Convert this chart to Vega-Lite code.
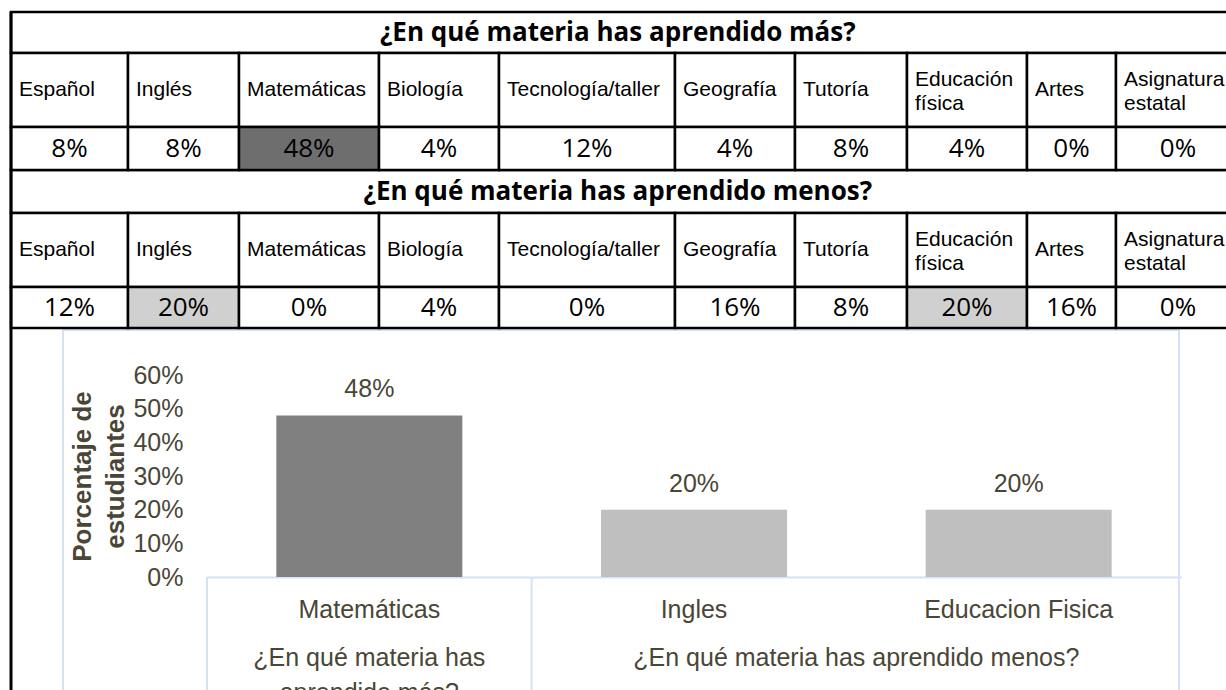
{
 "$schema": "https://vega.github.io/schema/vega-lite/v6.json",
 "autosize": {"type": "none"},
 "padding": {"left": 63, "top": 330, "right": 47, "bottom": 0},
 "width": 1116,
 "height": 370,
 "background": "white",
 "config": {"view": {"stroke": "#D6E2F2", "strokeWidth": 2}, "font": "Liberation Sans"},
 "datasets": {
  "preguntas": [
   {"pregunta": "más", "titulo": "¿En qué materia has aprendido más?"},
   {"pregunta": "menos", "titulo": "¿En qué materia has aprendido menos?"}
  ],
  "materias": [
   {"pregunta": "más", "materia": "Español", "orden": 0, "pct": 0.08},
   {"pregunta": "más", "materia": "Inglés", "orden": 1, "pct": 0.08},
   {"pregunta": "más", "materia": "Matemáticas", "orden": 2, "pct": 0.48},
   {"pregunta": "más", "materia": "Biología", "orden": 3, "pct": 0.04},
   {"pregunta": "más", "materia": "Tecnología/taller", "orden": 4, "pct": 0.12},
   {"pregunta": "más", "materia": "Geografía", "orden": 5, "pct": 0.04},
   {"pregunta": "más", "materia": "Tutoría", "orden": 6, "pct": 0.08},
   {"pregunta": "más", "materia": "Educación física", "orden": 7, "pct": 0.04},
   {"pregunta": "más", "materia": "Artes", "orden": 8, "pct": 0},
   {"pregunta": "más", "materia": "Asignatura estatal", "orden": 9, "pct": 0},
   {"pregunta": "menos", "materia": "Español", "orden": 0, "pct": 0.12},
   {"pregunta": "menos", "materia": "Inglés", "orden": 1, "pct": 0.2},
   {"pregunta": "menos", "materia": "Matemáticas", "orden": 2, "pct": 0},
   {"pregunta": "menos", "materia": "Biología", "orden": 3, "pct": 0.04},
   {"pregunta": "menos", "materia": "Tecnología/taller", "orden": 4, "pct": 0},
   {"pregunta": "menos", "materia": "Geografía", "orden": 5, "pct": 0.16},
   {"pregunta": "menos", "materia": "Tutoría", "orden": 6, "pct": 0.08},
   {"pregunta": "menos", "materia": "Educación física", "orden": 7, "pct": 0.2},
   {"pregunta": "menos", "materia": "Artes", "orden": 8, "pct": 0.16},
   {"pregunta": "menos", "materia": "Asignatura estatal", "orden": 9, "pct": 0}
  ],
  "grafico": [
   {"categoria": "Matemáticas", "grupo": "más", "pct": 0.48},
   {"categoria": "Ingles", "grupo": "menos", "pct": 0.2},
   {"categoria": "Educacion Fisica", "grupo": "menos", "pct": 0.2}
  ],
  "grupos": [
   {"grupo": "más", "etiqueta": "¿En qué materia has\naprendido más?", "primera": "Matemáticas", "ultima": "Matemáticas"},
   {"grupo": "menos", "etiqueta": "¿En qué materia has aprendido menos?", "primera": "Ingles", "ultima": "Educacion Fisica"}
  ]
 },
 "layer": [
  {
   "layer": [
    {
     "data": {"name": "preguntas"},
     "transform": [
      {"calculate": "datum.pregunta === 'más' ? 0 : 3", "as": "b"},
      {"calculate": "datum.b + 1", "as": "b1"}
     ],
     "mark": {"type": "rect", "fill": "white", "stroke": "black", "strokeWidth": 2.5},
     "encoding": {
      "x": {"datum": 0, "type": "quantitative", "axis": null, "scale": {"type": "linear", "domain": [0,1,2,3,4,5,6,7,8,9,10], "range": [-52,65,176,316,436,612,732,844,964,1053,1177], "nice": false, "zero": false}},
      "x2": {"datum": 10},
      "y": {"field": "b", "type": "quantitative", "axis": null, "scale": {"type": "linear", "domain": [0,1,2,3,4,5,6,7], "range": [-318,-277,-203,-160,-117,-43,-2,370], "nice": false, "zero": false}},
      "y2": {"field": "b1"}
     }
    },
    {
     "data": {"name": "preguntas"},
     "transform": [
      {"calculate": "datum.pregunta === 'más' ? 0.5 : 3.5", "as": "ym"}
     ],
     "mark": {"type": "text", "font": "Open Sans", "fontWeight": "bold", "fontSize": 26, "color": "black", "align": "center", "baseline": "middle"},
     "encoding": {
      "x": {"datum": 4.675, "type": "quantitative"},
      "y": {"field": "ym", "type": "quantitative"},
      "text": {"field": "titulo"}
     }
    },
    {
     "data": {"name": "materias"},
     "transform": [
      {"calculate": "datum.pregunta === 'más' ? 1 : 4", "as": "f1"},
      {"calculate": "datum.f1 + 1", "as": "f2"},
      {"calculate": "datum.orden + 1", "as": "o1"}
     ],
     "mark": {"type": "rect", "fill": "white", "stroke": "black", "strokeWidth": 2.5},
     "encoding": {
      "x": {"field": "orden", "type": "quantitative"},
      "x2": {"field": "o1"},
      "y": {"field": "f1", "type": "quantitative"},
      "y2": {"field": "f2"}
     }
    },
    {
     "data": {"name": "materias"},
     "transform": [
      {"filter": "indexof(datum.materia, ' ') < 0"},
      {"calculate": "datum.pregunta === 'más' ? 1.5 : 4.5", "as": "fm"}
     ],
     "mark": {"type": "text", "font": "Liberation Sans", "fontSize": 21, "color": "black", "align": "left", "baseline": "middle", "dx": 8},
     "encoding": {
      "x": {"field": "orden", "type": "quantitative"},
      "y": {"field": "fm", "type": "quantitative"},
      "text": {"field": "materia"}
     }
    },
    {
     "data": {"name": "materias"},
     "transform": [
      {"filter": "indexof(datum.materia, ' ') >= 0"},
      {"calculate": "datum.pregunta === 'más' ? 1.5 : 4.5", "as": "fm"}
     ],
     "mark": {"type": "text", "font": "Liberation Sans", "fontSize": 21, "color": "black", "align": "left", "baseline": "middle", "dx": 8, "dy": -10, "lineBreak": " ", "lineHeight": 24},
     "encoding": {
      "x": {"field": "orden", "type": "quantitative"},
      "y": {"field": "fm", "type": "quantitative"},
      "text": {"field": "materia"}
     }
    },
    {
     "data": {"name": "materias"},
     "transform": [
      {"joinaggregate": [{"op": "max", "field": "pct", "as": "maximo"}], "groupby": ["pregunta"]},
      {"calculate": "datum.pregunta === 'más' ? 2 : 5", "as": "f2"},
      {"calculate": "datum.f2 + 1", "as": "f3"},
      {"calculate": "datum.orden + 1", "as": "o1"}
     ],
     "mark": {"type": "rect", "stroke": "black", "strokeWidth": 2.5},
     "encoding": {
      "x": {"field": "orden", "type": "quantitative"},
      "x2": {"field": "o1"},
      "y": {"field": "f2", "type": "quantitative"},
      "y2": {"field": "f3"},
      "fill": {"condition": [
        {"test": "datum.pct === datum.maximo && datum.pregunta === 'más'", "value": "#6E6E6E"},
        {"test": "datum.pct === datum.maximo", "value": "#D0D0D0"}
       ], "value": "white"}
     }
    },
    {
     "data": {"name": "materias"},
     "transform": [
      {"calculate": "datum.pregunta === 'más' ? 2.5 : 5.5", "as": "fv"},
      {"calculate": "datum.orden + 0.5", "as": "om"}
     ],
     "mark": {"type": "text", "font": "Open Sans", "fontSize": 26, "color": "black", "align": "center", "baseline": "middle"},
     "encoding": {
      "x": {"field": "om", "type": "quantitative"},
      "y": {"field": "fv", "type": "quantitative"},
      "text": {"field": "pct", "type": "quantitative", "format": ".0%"}
     }
    },
    {
     "data": {"values": [{}]},
     "mark": {"type": "rule", "color": "black", "strokeWidth": 3},
     "encoding": {
      "x": {"datum": 0, "type": "quantitative"},
      "y": {"datum": 0, "type": "quantitative"},
      "y2": {"datum": 7}
     }
    }
   ]
  },
  {
   "layer": [
    {
     "data": {"name": "grafico"},
     "mark": {"type": "bar"},
     "encoding": {
      "x": {"field": "categoria", "type": "nominal", "sort": null,
       "scale": {"type": "band", "domain": ["Matemáticas", "Ingles", "Educacion Fisica"], "range": [144, 1118], "paddingInner": 0.427, "paddingOuter": 0.2135},
       "axis": {"orient": "bottom", "offset": -123, "title": null, "domain": true, "domainColor": "#D6E2F2", "domainWidth": 2, "ticks": false, "tickSize": 0, "grid": false, "labelPadding": 20, "labelLimit": 0, "labelFont": "Liberation Sans", "labelFontSize": 25, "labelColor": "#4A4636", "labelAngle": 0}},
      "y": {"field": "pct", "type": "quantitative",
       "scale": {"domain": [0, 0.6], "range": [247, 45], "nice": false, "zero": true},
       "axis": {"orient": "left", "offset": -120, "values": [0, 0.1, 0.2, 0.3, 0.4, 0.5, 0.6], "format": ".0%", "domain": false, "ticks": false, "tickSize": 0, "grid": false, "labelPadding": 0, "labelFont": "Liberation Sans", "labelFontSize": 25, "labelColor": "#4A4636",
        "title": ["Porcentaje de", "estudiantes"], "titleFont": "Liberation Sans", "titleFontSize": 26, "titleFontWeight": "bold", "titleColor": "#4A4636", "titleX": -101, "titleY": 146, "titleAngle": -90, "titleAlign": "center", "titleBaseline": "middle", "titleLineHeight": 33}},
      "color": {"field": "grupo", "type": "nominal", "scale": {"domain": ["más", "menos"], "range": ["#808080", "#BFBFBF"]}, "legend": null}
     }
    },
    {
     "data": {"name": "grafico"},
     "mark": {"type": "text", "font": "Liberation Sans", "fontSize": 25, "color": "#4A4636", "align": "center", "baseline": "middle", "dy": -26},
     "encoding": {
      "x": {"field": "categoria", "type": "nominal"},
      "y": {"field": "pct", "type": "quantitative"},
      "text": {"field": "pct", "type": "quantitative", "format": ".0%"}
     }
    },
    {
     "data": {"name": "grupos"},
     "mark": {"type": "rule", "color": "#D6E2F2", "strokeWidth": 2},
     "encoding": {
      "x": {"field": "primera", "type": "nominal", "bandPosition": -0.3726},
      "y": {"datum": 0, "type": "quantitative"},
      "y2": {"datum": -1}
     }
    },
    {
     "data": {"name": "grupos"},
     "transform": [{"filter": "datum.grupo === 'más'"}],
     "mark": {"type": "text", "font": "Liberation Sans", "fontSize": 25, "color": "#4A4636", "align": "center", "baseline": "top", "dy": 69, "lineBreak": "\n", "lineHeight": 35},
     "encoding": {
      "x": {"field": "primera", "type": "nominal", "bandPosition": 0.5},
      "y": {"datum": 0, "type": "quantitative"},
      "text": {"field": "etiqueta"}
     }
    },
    {
     "data": {"name": "grupos"},
     "transform": [{"filter": "datum.grupo === 'menos'"}],
     "mark": {"type": "text", "font": "Liberation Sans", "fontSize": 25, "color": "#4A4636", "align": "center", "baseline": "top", "dy": 69, "lineBreak": "\n", "lineHeight": 35},
     "encoding": {
      "x": {"field": "ultima", "type": "nominal", "bandPosition": -0.3726},
      "y": {"datum": 0, "type": "quantitative"},
      "text": {"field": "etiqueta"}
     }
    }
   ]
  }
 ],
 "resolve": {"scale": {"x": "independent", "y": "independent", "color": "independent"}, "axis": {"x": "independent", "y": "independent"}}
}
